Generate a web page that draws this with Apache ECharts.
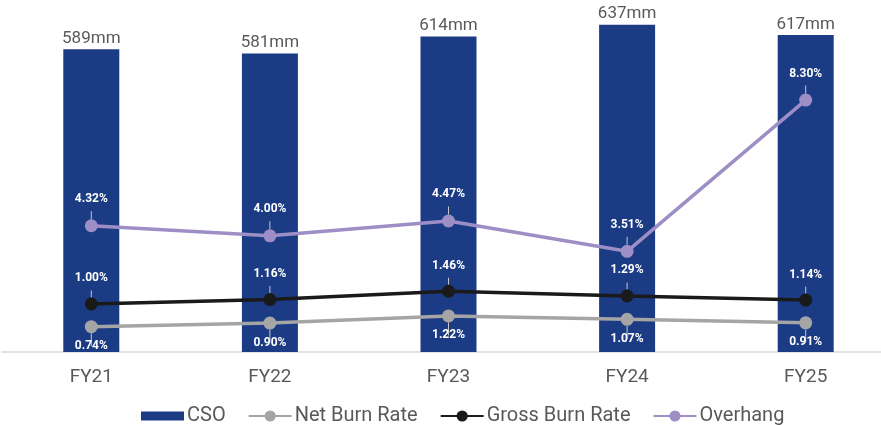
<!DOCTYPE html>
<html>
<head>
<meta charset="utf-8">
<script src="https://cdn.jsdelivr.net/npm/echarts@6/dist/echarts.min.js"></script>
<style>
  html, body { margin: 0; padding: 0; background: #fff; overflow: hidden; }
  /* plot area runs a little past the right edge in the original */
  #chart { width: 895px; height: 425px; }
</style>
</head>
<body>
<div id="chart"></div>
<script>
// data
const years = ['FY21', 'FY22', 'FY23', 'FY24', 'FY25'];
const cso = [589, 581, 614, 637, 617];          // mm shares
const netBurn = [0.74, 0.90, 1.22, 1.07, 0.91]; // %
const grossBurn = [1.00, 1.16, 1.46, 1.29, 1.14];
const overhang = [4.32, 4.00, 4.47, 3.51, 8.30];

const navy = '#1b3b84';
const grey = '#a5a5a5';
const black = '#1a1a1a';
const purple = '#9d8fc6';
const font = 'Roboto, "Noto Sans", sans-serif';

const myChart = echarts.init(document.getElementById('chart'));

// white bold callout labels like the original
function pctLabel(pos, dist) {
  return {
    show: true,
    position: pos,
    distance: dist,
    color: '#fff',
    fontSize: 12,
    fontWeight: 'bold',
    fontFamily: font,
    formatter: p => p.value.toFixed(2) + '%'
  };
}

function lineSeries(name, data, color, axis, pos, dist) {
  return {
    name: name,
    type: 'line',
    yAxisIndex: axis,
    data: data,
    symbol: 'circle',
    symbolSize: 13,
    lineStyle: { color: color, width: 3.5 },
    itemStyle: { color: color },
    label: pctLabel(pos, dist),
    labelLine: { show: true, lineStyle: { color: '#c8c8c8', width: 1 } },
    z: 3
  };
}

// hidden value axes, one per line, so each line sits where it sits in the picture
function hiddenAxis(min, max) {
  return { type: 'value', min: min, max: max, show: false, splitLine: { show: false } };
}

myChart.setOption({
  animation: false,
  grid: { left: 2, right: 0, top: 0, bottom: 73 },
  legend: {
    top: 401,
    left: 136,
    itemGap: 22,
    itemWidth: 43,
    itemHeight: 14,
    textStyle: { color: '#595959', fontSize: 20, fontFamily: font, padding: [0, 0, 0, -2] },
    data: [
      // flat bar swatch, thinner than the line icons
      { name: 'CSO', icon: 'path://M0,0 M0,2.5L43,2.5L43,11.5L0,11.5Z M0,14', itemStyle: { color: navy } },
      { name: 'Net Burn Rate' },
      { name: 'Gross Burn Rate' },
      { name: 'Overhang' }
    ]
  },
  xAxis: {
    type: 'category',
    data: years,
    axisTick: { show: false },
    axisLine: { lineStyle: { color: '#d9d9d9', width: 1.5 } },
    axisLabel: { color: '#595959', fontSize: 19, fontFamily: font, margin: 16 }
  },
  yAxis: [
    { type: 'value', min: 0, max: 685, show: false, splitLine: { show: false } },
    hiddenAxis(-0.39, 15.32),
    hiddenAxis(-0.74, 12.01),
    hiddenAxis(0.32, 11.47)
  ],
  series: [
    {
      name: 'CSO',
      type: 'bar',
      data: cso,
      barWidth: 56,
      itemStyle: { color: navy },
      label: {
        show: true,
        position: 'top',
        distance: 2,
        color: '#595959',
        fontSize: 17,
        fontFamily: font,
        formatter: p => p.value + 'mm'
      },
      z: 1
    },
    lineSeries('Net Burn Rate', netBurn, grey, 1, 'bottom', 7),
    lineSeries('Gross Burn Rate', grossBurn, black, 2, 'top', 13),
    lineSeries('Overhang', overhang, purple, 3, 'top', 14)
  ]
});
</script>
</body>
</html>
